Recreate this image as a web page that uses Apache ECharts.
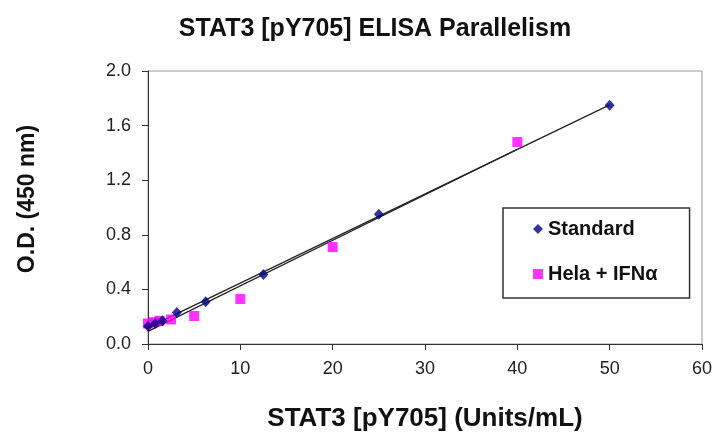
<!DOCTYPE html>
<html>
<head>
<meta charset="utf-8">
<script src="https://cdn.jsdelivr.net/npm/echarts@6/dist/echarts.min.js"></script>
<style>
html,body{margin:0;padding:0;background:#fff;}
#chart{width:714px;height:432px;}
</style>
</head>
<body>
<div id="chart"></div>
<script>
const titleText = 'STAT3 [pY705] ELISA Parallelism';
const xTitle = 'STAT3 [pY705] (Units/mL)';
const yTitle = 'O.D. (450 nm)';
const seriesNames = ['Standard', 'Hela + IFNα'];
const standardX = [0, 0.78, 1.56, 3.125, 6.25, 12.5, 25, 50];
const standardY = [0.13, 0.15, 0.17, 0.23, 0.31, 0.51, 0.95, 1.75];
const helaX = [0, 0.625, 1.25, 2.5, 5, 10, 20, 40];
const helaY = [0.15, 0.16, 0.17, 0.18, 0.205, 0.33, 0.71, 1.48];

function pairs(xs, ys) { return xs.map((x, i) => [x, ys[i]]); }
function regressionLine(xs, ys) {
  const n = xs.length;
  const mx = xs.reduce((a, b) => a + b, 0) / n;
  const my = ys.reduce((a, b) => a + b, 0) / n;
  let sxy = 0, sxx = 0;
  for (let i = 0; i < n; i++) { sxy += (xs[i] - mx) * (ys[i] - my); sxx += (xs[i] - mx) ** 2; }
  const slope = sxy / sxx, icpt = my - slope * mx;
  const x0 = Math.min(...xs), x1 = Math.max(...xs);
  return [[x0, icpt + slope * x0], [x1, icpt + slope * x1]];
}

const font = 'Liberation Sans, Arial, sans-serif';
const chart = echarts.init(document.getElementById('chart'));
chart.setOption({
  animation: false,
  backgroundColor: '#fff',
  title: {
    text: titleText, left: 370, top: 12, textAlign: 'center',
    textStyle: { fontFamily: font, fontSize: 25, fontWeight: 'bold', color: '#111' }
  },
  graphic: [{
    type: 'text', x: 28, y: 199, rotation: Math.PI / 2,
    style: { text: yTitle, align: 'center', verticalAlign: 'middle',
      font: 'bold 23px Liberation Sans, Arial, sans-serif', fill: '#111' }
  }],
  grid: { left: 148, right: 12, top: 71, bottom: 88, show: true, borderColor: '#999', borderWidth: 1,
    containLabel: false, outerBoundsMode: 'none' },
  legend: {
    data: [{ name: seriesNames[0], icon: 'diamond' }, { name: seriesNames[1], icon: 'rect' }],
    orient: 'vertical', left: 503, top: 208,
    padding: [11, 32, 14, 30], itemGap: 25, itemWidth: 10, itemHeight: 10,
    borderColor: '#333', borderWidth: 1.5,
    textStyle: { fontFamily: font, fontSize: 20, fontWeight: 'bold', color: '#111' }
  },
  xAxis: {
    type: 'value', min: 0, max: 60, interval: 10,
    name: xTitle, nameLocation: 'middle', nameGap: 62,
    nameTextStyle: { fontFamily: font, fontSize: 26, fontWeight: 'bold', color: '#111' },
    axisLine: { lineStyle: { color: '#333', width: 1 } },
    axisTick: { show: true, length: 6, lineStyle: { color: '#333' } },
    axisLabel: { fontFamily: font, fontSize: 18, color: '#222', margin: 16 },
    splitLine: { show: false }
  },
  yAxis: {
    type: 'value', min: 0, max: 2, interval: 0.4,
    axisLine: { show: true, lineStyle: { color: '#333', width: 1 } },
    axisTick: { show: true, length: 6, lineStyle: { color: '#333' } },
    axisLabel: { fontFamily: font, fontSize: 18, color: '#222', margin: 17, formatter: v => v.toFixed(1) },
    splitLine: { show: false }
  },
  series: [
    {
      name: 'Standard trend', type: 'line', data: regressionLine(standardX, standardY),
      symbol: 'none', lineStyle: { color: '#222', width: 1.3 }, z: 1, silent: true
    },
    {
      name: 'Hela trend', type: 'line', data: regressionLine(helaX, helaY),
      symbol: 'none', lineStyle: { color: '#222', width: 1.3 }, z: 1, silent: true
    },
    {
      name: seriesNames[1], type: 'scatter', data: pairs(helaX, helaY),
      symbol: 'rect', symbolSize: 10, itemStyle: { color: '#ff00ff' }, z: 3
    },
    {
      name: seriesNames[0], type: 'scatter', data: pairs(standardX, standardY),
      symbol: 'diamond', symbolSize: [10, 11], itemStyle: { color: '#000080' }, z: 4
    }
  ]
});
</script>
</body>
</html>
